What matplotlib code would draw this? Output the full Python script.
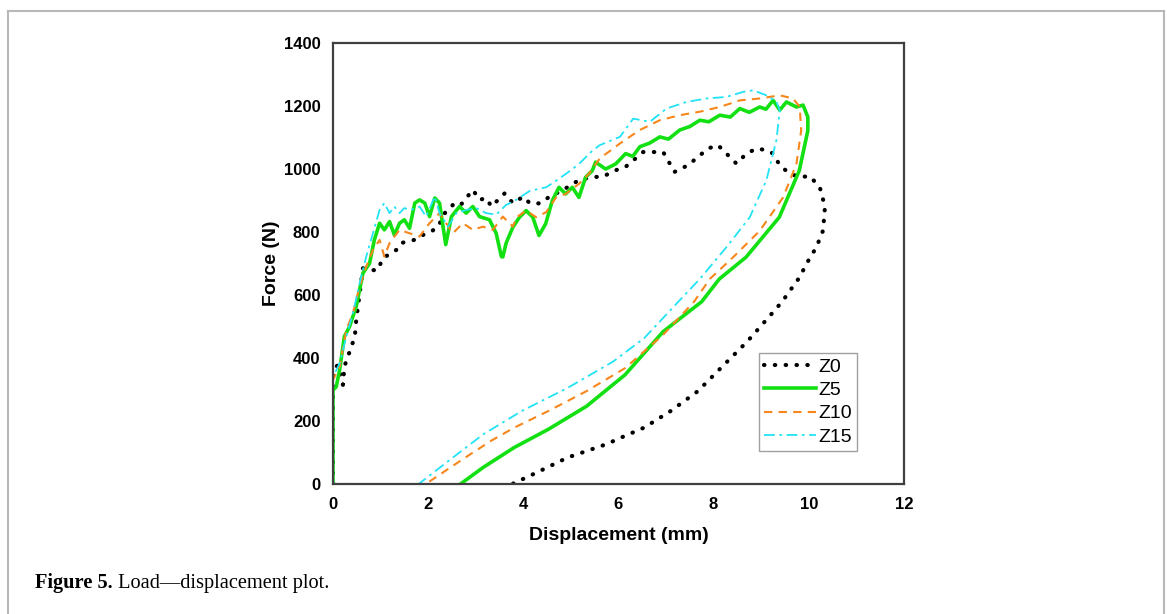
#!/usr/bin/env python3
# Load - displacement plot (Z0 / Z5 / Z10 / Z15)

import matplotlib
matplotlib.use("Agg")
import matplotlib.pyplot as plt
from matplotlib.lines import Line2D

plt.rcParams.update({
    "font.family": ["Liberation Sans", "DejaVu Sans"],
    "font.size": 12,
})

# ------------------------------------------------------------
# data (displacement in mm, force in N)
# ------------------------------------------------------------

z0_x = [0, 0, 0.1, 0.21, 0.24, 0.35, 0.46, 0.49, 0.63, 0.77, 0.94, 1.05, 1.33, 1.43,
        1.71, 1.82, 2.07, 2.21, 2.35, 2.52, 2.66, 2.94, 3.08, 3.22, 3.33, 3.61, 3.78,
        4.0, 4.14, 4.35, 4.55, 4.83, 5.17, 5.45, 5.66, 5.94, 6.15, 6.52, 6.94, 7.08,
        7.18, 7.46, 7.67, 7.88, 8.09, 8.27, 8.48, 8.69, 8.90, 9.11, 9.25, 9.39, 9.60,
        9.81, 10.02, 10.23, 10.34, 10.3, 10.16, 9.95, 9.81, 9.44, 9.2, 8.71, 8.15,
        7.67, 7.10, 6.54, 6.14, 5.74, 4.93, 4.29, 3.77]
z0_y = [0, 357, 378, 315, 373, 420, 468, 521, 685, 679, 679, 717, 743, 765,
        775, 786, 802, 817, 860, 886, 881, 934, 902, 908, 881, 923, 892,
        912, 891, 891, 912, 933, 965, 975, 975, 996, 1007, 1054, 1054, 1017,
        991, 1012, 1038, 1065, 1076, 1049, 1017, 1049, 1065, 1060, 1049, 1012, 985,
        975, 977, 943, 880, 805, 752, 699, 657, 579, 537, 453, 368,
        295, 232, 179, 153, 126, 84, 37, 0]

z5_x = [0, 0, 0.07, 0.14, 0.24, 0.35, 0.49, 0.63, 0.77, 0.87, 0.98, 1.08, 1.19, 1.29,
        1.40, 1.50, 1.61, 1.72, 1.82, 1.93, 2.03, 2.14, 2.24, 2.37, 2.49, 2.66, 2.80,
        2.94, 3.08, 3.29, 3.43, 3.54, 3.57, 3.64, 3.78, 3.92, 4.06, 4.20, 4.33, 4.47,
        4.61, 4.75, 4.89, 5.03, 5.17, 5.31, 5.45, 5.52, 5.73, 5.94, 6.15, 6.30, 6.45,
        6.65, 6.87, 7.05, 7.29, 7.50, 7.71, 7.90, 8.13, 8.35, 8.55, 8.75, 8.97, 9.10,
        9.25, 9.39, 9.53, 9.74, 9.88, 9.98, 9.98, 9.80, 9.38, 8.68, 8.12, 7.75, 6.94,
        6.14, 5.33, 4.53, 3.81, 3.16, 2.68]
z5_y = [0, 298, 309, 362, 468, 500, 564, 669, 701, 775, 828, 807, 833, 791,
        828, 839, 812, 892, 902, 892, 849, 908, 892, 760, 849, 881, 860,
        881, 849, 839, 796, 722, 721, 765, 815, 847, 868, 847, 789, 826,
        900, 942, 921, 942, 910, 974, 995, 1022, 1000, 1016, 1049, 1040, 1071,
        1082, 1102, 1095, 1124, 1135, 1155, 1150, 1171, 1165, 1192, 1180, 1197, 1190,
        1218, 1187, 1213, 1197, 1203, 1165, 1122, 995, 847, 720, 651, 579, 484,
        347, 247, 174, 116, 53, 0]

z10_x = [0, 0, 0.14, 0.28, 0.42, 0.56, 0.70, 0.84, 0.98, 1.08, 1.19, 1.40, 1.61, 1.82,
         2.03, 2.24, 2.52, 2.73, 2.94, 3.15, 3.36, 3.57, 3.78, 3.86, 4.06, 4.27, 4.48,
         4.69, 4.89, 5.17, 5.38, 5.61, 6.03, 6.45, 6.87, 7.29, 7.71, 8.13, 8.55, 8.97,
         9.39, 9.67, 9.81, 9.84, 9.74, 9.46, 8.97, 8.41, 7.92, 7.59, 6.94, 6.14, 5.33,
         4.53, 3.81, 3.32, 2.68, 1.95, 0]
z10_y = [0, 330, 373, 489, 542, 627, 690, 743, 775, 722, 765, 807, 796, 786,
         828, 860, 796, 828, 807, 817, 807, 849, 817, 847, 868, 847, 863,
         910, 921, 953, 985, 1034, 1081, 1124, 1155, 1171, 1182, 1197, 1218, 1224,
         1234, 1224, 1197, 1122, 1016, 910, 804, 720, 651, 579, 474, 368, 295,
         232, 179, 137, 74, 0, 0]

z15_x = [0, 0, 0.14, 0.28, 0.42, 0.56, 0.70, 0.84, 0.98, 1.08, 1.19, 1.29, 1.40, 1.50,
         1.64, 1.82, 1.96, 2.14, 2.24, 2.42, 2.59, 2.80, 3.01, 3.22, 3.43, 3.64, 3.85,
         4.14, 4.48, 4.69, 4.89, 5.17, 5.45, 5.61, 6.03, 6.31, 6.66, 7.01, 7.43, 7.85,
         8.27, 8.62, 8.83, 9.11, 9.32, 9.39, 9.32, 9.11, 8.76, 8.27, 7.71, 7.26, 6.54,
         5.89, 4.93, 3.97, 3.16, 2.52, 1.8, 0]
z15_y = [0, 340, 383, 468, 542, 637, 722, 796, 870, 892, 860, 881, 860, 876,
         870, 881, 849, 913, 860, 817, 860, 870, 876, 860, 855, 886, 902,
         931, 942, 963, 984, 1016, 1058, 1076, 1102, 1160, 1150, 1192, 1213, 1224,
         1229, 1245, 1250, 1234, 1213, 1187, 1092, 965, 847, 752, 651, 579, 463,
         389, 305, 232, 158, 84, 0, 0]

x_ticks = [0, 2, 4, 6, 8, 10, 12]
y_ticks = [0, 200, 400, 600, 800, 1000, 1200, 1400]

# ------------------------------------------------------------
# figure
# ------------------------------------------------------------

fig = plt.figure(figsize=(11.67, 6.14), dpi=100)
ax = fig.add_axes([0.2853, 0.2117, 0.4893, 0.7182])

ax.plot(z0_x, z0_y, color="black", lw=3.0,
        linestyle=(0, (0.1, 2.5)), dash_capstyle="round", label="Z0")
ax.plot(z5_x, z5_y, color="#12e012", lw=2.6, label="Z5")
ax.plot(z10_x, z10_y, color="#f7861c", lw=1.5,
        linestyle=(0, (4, 3)), label="Z10")
ax.plot(z15_x, z15_y, color="#22e3f5", lw=1.3,
        linestyle=(0, (6, 2.5, 1.5, 2.5)), label="Z15")

ax.set_xlim(0, 12)
ax.set_ylim(0, 1400)
ax.set_xticks(x_ticks)
ax.set_yticks(y_ticks)
for lab in ax.get_xticklabels() + ax.get_yticklabels():
    lab.set_fontweight("bold")
ax.tick_params(length=0, pad=9, labelsize=12)

for s in ax.spines.values():
    s.set_color("#404040")
    s.set_linewidth(1.6)

ax.set_xlabel("Displacement (mm)", fontsize=14, fontweight="bold", labelpad=11)
ax.set_ylabel("Force (N)", fontsize=14, fontweight="bold", labelpad=3)

leg = ax.legend(loc="upper left", bbox_to_anchor=(0.746, 0.297),
                fontsize=14, handlelength=2.7, labelspacing=0.3,
                handletextpad=0.1, borderpad=0.25, borderaxespad=0,
                fancybox=False, framealpha=1)
leg.get_frame().set_edgecolor("#a0a0a0")
leg.get_frame().set_linewidth(1.0)

# outer frame of the figure panel
fc = "#b8b8b8"
fig.add_artist(Line2D([0.00686, 0.00686], [0.0, 0.9821], color=fc, lw=1.5))
fig.add_artist(Line2D([0.00686, 0.99743], [0.9821, 0.9821], color=fc, lw=1.5))
fig.add_artist(Line2D([0.99743, 0.99743], [0.0, 0.9821], color=fc, lw=1.5))

# caption
cap = fig.text(35 / 1167, 1 - 588 / 614, "Figure 5.", fontsize=14.7,
               fontweight="bold", family=["Liberation Serif", "DejaVu Serif"],
               va="baseline")
fig.canvas.draw()
ax.annotate(" Load\u2014displacement plot.", xy=(1, 0), xycoords=cap,
            fontsize=14.7, family=["Liberation Serif", "DejaVu Serif"],
            va="bottom", ha="left", annotation_clip=False)

fig.savefig("out.png", dpi=100)
